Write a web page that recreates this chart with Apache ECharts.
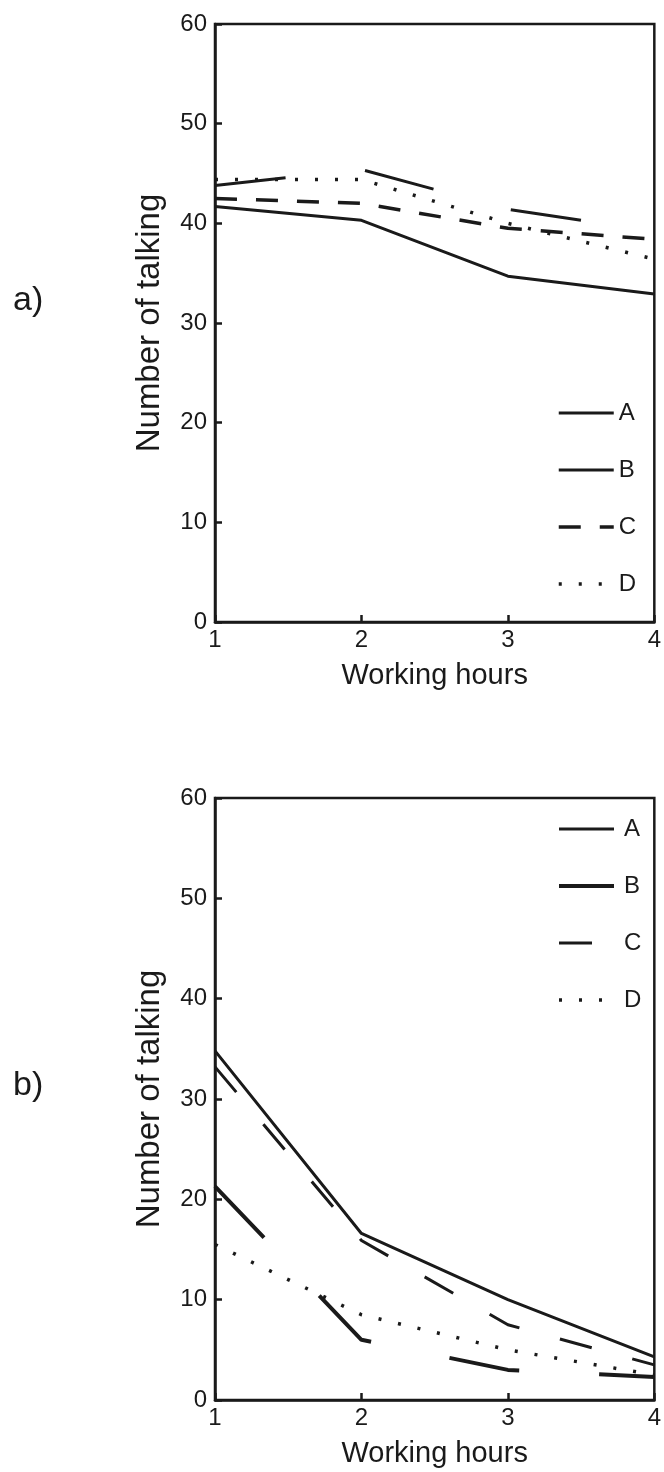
<!DOCTYPE html>
<html>
<head>
<meta charset="utf-8">
<script src="https://cdn.jsdelivr.net/npm/echarts@6/dist/echarts.min.js"></script>
<style>
html,body{margin:0;padding:0;background:#fff;}
#chart{width:664px;height:1472px;}
</style>
</head>
<body>
<div id="chart"></div>
<script>
// Data
var hours = [1, 2, 3, 4];
var yTicks = [0, 10, 20, 30, 40, 50, 60];
var seriesNames = ['A', 'B', 'C', 'D'];
// panel a)
var aA = [41.7, 40.3, 34.7, 32.9];
var aB = [43.8, 45.4, 41.4, 39.2];
var aC = [42.5, 42.0, 39.5, 38.4];
var aD = [44.4, 44.4, 40.0, 36.4];
// panel b)
var bA = [34.8, 16.6, 10.0, 4.3];
var bB = [21.3, 6.0, 3.0, 2.3];
var bC = [33.2, 15.9, 7.5, 3.5];
var bD = [15.5, 8.5, 5.0, 2.5];

var FONT = 'Liberation Sans, Arial, sans-serif';
var INK = '#1a1a1a';

var styleA = {a: {w: 3, dash: 'solid'}, b: {w: 3, dash: 'solid'}};
var styles = {
  a: {A: {w: 3, dash: 'solid'}, B: {w: 3, dash: [71, 80]}, C: {w: 3.5, dash: [22, 19]}, D: {w: 3.5, dash: [3, 17]}},
  b: {A: {w: 3, dash: 'solid'}, B: {w: 4, dash: [71, 80]}, C: {w: 3, dash: [33, 42]}, D: {w: 3.5, dash: [3, 17]}}
};

function pairs(vals){ return hours.map(function(h,i){ return [h, vals[i]]; }); }

function xAxisCfg(gi){
  return {
    gridIndex: gi, type: 'value', min: hours[0], max: hours[hours.length-1], interval: 1,
    name: 'Working hours', nameLocation: 'middle', nameGap: 39,
    nameTextStyle: {fontFamily: FONT, fontSize: 29, color: INK},
    axisLine: {show: true, lineStyle: {color: INK, width: 2.5}},
    axisTick: {show: true, inside: true, length: 7, lineStyle: {color: INK, width: 2.5}},
    axisLabel: {fontFamily: FONT, fontSize: 24, color: INK, margin: 6},
    splitLine: {show: false}
  };
}
function yAxisCfg(gi){
  return {
    gridIndex: gi, type: 'value', min: yTicks[0], max: yTicks[yTicks.length-1], interval: 10,
    name: 'Number of talking', nameLocation: 'middle', nameGap: 49,
    nameTextStyle: {fontFamily: FONT, fontSize: 33, color: INK},
    axisLine: {show: true, lineStyle: {color: INK, width: 2.5}},
    axisTick: {show: true, inside: true, length: 7, lineStyle: {color: INK, width: 2.5}},
    axisLabel: {fontFamily: FONT, fontSize: 24, color: INK, margin: 8},
    splitLine: {show: false}
  };
}
function line(gi, panel, n, vals){
  var s = styles[panel][n];
  return {
    type: 'line', name: panel + '-' + n, xAxisIndex: gi, yAxisIndex: gi,
    data: pairs(vals), symbol: 'none', silent: true, animation: false,
    lineStyle: {color: INK, width: s.w, type: s.dash, cap: 'butt'},
    itemStyle: {color: INK}
  };
}
function legendCfg(panel, top, gap){
  return {
    orient: 'vertical', left: 557, top: top, itemWidth: 55, itemHeight: 24, itemGap: 33, padding: 0,
    data: seriesNames.map(function(n){
      var s = styles[panel][n];
      return {name: panel + '-' + n, lineStyle: {width: s.w, type: s.dash, color: INK}};
    }),
    formatter: function(n){ return n.slice(2); },
    itemStyle: {opacity: 0},
    textStyle: {fontFamily: FONT, fontSize: 24, color: INK, padding: [0,0,0,gap]},
    selectedMode: false
  };
}

var chart = echarts.init(document.getElementById('chart'), null, {renderer: 'canvas'});
chart.setOption({
  animation: false,
  backgroundColor: '#fff',
  title: [
    {text: 'a)', left: 8, top: 279, textStyle: {fontFamily: FONT, fontSize: 34, fontWeight: 'normal', color: INK}},
    {text: 'b)', left: 8, top: 1064, textStyle: {fontFamily: FONT, fontSize: 34, fontWeight: 'normal', color: INK}}
  ],
  grid: [
    {left: 215, top: 24, width: 441, height: 598, show: true, borderColor: INK, borderWidth: 2.5, containLabel: false},
    {left: 215, top: 798, width: 441, height: 602, show: true, borderColor: INK, borderWidth: 2.5, containLabel: false}
  ],
  xAxis: [xAxisCfg(0), xAxisCfg(1)],
  yAxis: [yAxisCfg(0), yAxisCfg(1)],
  legend: [legendCfg('a', 401, 0), legendCfg('b', 817, 5)],
  series: [
    line(0, 'a', 'A', aA),
    line(0, 'a', 'B', aB),
    line(0, 'a', 'C', aC),
    line(0, 'a', 'D', aD),
    line(1, 'b', 'A', bA),
    line(1, 'b', 'B', bB),
    line(1, 'b', 'C', bC),
    line(1, 'b', 'D', bD)
  ]
});
</script>
</body>
</html>
